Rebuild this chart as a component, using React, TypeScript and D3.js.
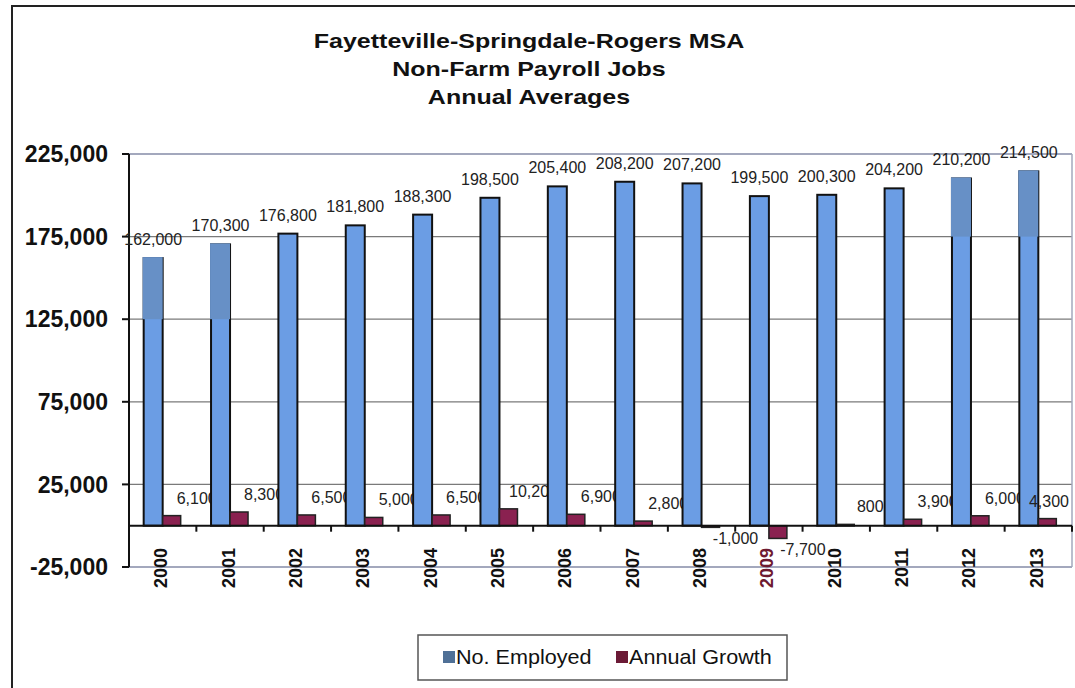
import * as d3 from 'd3';

const years = ['2000', '2001', '2002', '2003', '2004', '2005', '2006', '2007', '2008', '2009', '2010', '2011', '2012', '2013'];
const employed = [162000, 170300, 176800, 181800, 188300, 198500, 205400, 208200, 207200, 199500, 200300, 204200, 210200, 214500];
const growth = [6100, 8300, 6500, 5000, 6500, 10200, 6900, 2800, -1000, -7700, 800, 3900, 6000, 4300];
const yTicks = [-25000, 25000, 75000, 125000, 175000, 225000];
const seriesNames = ['No. Employed', 'Annual Growth'];
const titleLines = ['Fayetteville-Springdale-Rogers MSA', 'Non-Farm Payroll Jobs', 'Annual Averages'];
// scanned copy has flat patches over a few bar tops, down to these values
const patchYears = ['2000', '2001', '2012', '2013'];
const patchBottoms = [125000, 125000, 175000, 175000];

const W = 1075;
const H = 688;
const FONT = '"Liberation Sans", Arial, sans-serif';
const BLUE = '#6b9de4';
const PATCH = '#6790c6';
const RED = '#8a2150';

// excel-style numbers: plain hyphen for negatives
const fmt = (v: number) => d3.format(',')(v).replace('\u2212', '-');

export default function App(): JSX.Element {
  const left = 129;
  const right = 1072;
  const x = d3.scaleBand<string>().domain(years).range([left, right]).padding(0);
  const y = d3.scaleLinear().domain([-25000, 225000]).range([567, 154]);
  const bw = x.bandwidth();
  const half = 19;
  const center = (yr: string) => (x(yr) as number) + bw / 2;

  return (
    <svg
      xmlns="http://www.w3.org/2000/svg"
      width={W}
      height={H}
      style={{ position: 'absolute', left: 0, top: 0, background: '#fff' }}
      fontFamily={FONT}
    >
      <rect x={0} y={0} width={W} height={H} fill="#fff" />
      <rect x={12} y={6} width={W + 20} height={H + 20} fill="none" stroke="#222" strokeWidth={2} />

      {/* title is a bit wide in the original, stretch it */}
      <g transform="translate(529,0) scale(1.19,1)">
        <text textAnchor="middle" fontWeight="bold" fontSize={21} fill="#111">
          {titleLines.map((t, i) => (
            <tspan key={t} x={0} y={48 + i * 28}>
              {t}
            </tspan>
          ))}
        </text>
      </g>

      {/* gridlines */}
      {yTicks.map((t) => (
        <line
          key={t}
          x1={left}
          x2={right}
          y1={y(t)}
          y2={y(t)}
          stroke={t === 225000 || t === -25000 ? '#a3a8bd' : '#7a7a7a'}
          strokeWidth={t === 225000 || t === -25000 ? 2 : 1.3}
        />
      ))}
      <line x1={right} x2={right} y1={y(225000)} y2={y(-25000)} stroke="#a3a8bd" strokeWidth={1.5} />

      {/* y axis */}
      <line x1={left} x2={left} y1={y(225000)} y2={y(-25000)} stroke="#111" strokeWidth={2} />
      {yTicks.map((t) => (
        <g key={t}>
          <line x1={left - 7} x2={left} y1={y(t)} y2={y(t)} stroke="#111" strokeWidth={2} />
          <text
            x={108}
            y={y(t)}
            dy="0.36em"
            textAnchor="end"
            fontWeight="bold"
            fontSize={23}
            fill="#111"
          >
            {fmt(t)}
          </text>
        </g>
      ))}

      {/* bars; each growth label is drawn with its own year so the next year's bar covers it */}
      {years.map((yr, i) => {
        const c = center(yr);
        const g = growth[i];
        const pi = patchYears.indexOf(yr);
        const lx = Math.min(c + half + 15, right - 23);
        const ly = g >= 0 ? y(g) - 12 : y(g) + 17;
        return (
          <g key={yr}>
            <rect
              x={c - half}
              y={y(employed[i])}
              width={half}
              height={y(0) - y(employed[i])}
              fill={BLUE}
              stroke="#111"
              strokeWidth={2}
            />
            {pi >= 0 && (
              <rect
                x={c - half - 1}
                y={y(employed[i]) - 1}
                width={half + 1}
                height={y(patchBottoms[pi]) - y(employed[i]) + 1}
                fill={PATCH}
              />
            )}
            <rect
              x={c}
              y={y(Math.max(0, g))}
              width={half - 1}
              height={Math.max(1.5, Math.abs(y(g) - y(0)))}
              fill={RED}
              stroke="#222"
              strokeWidth={1.5}
            />
            <text x={lx} y={ly} textAnchor="middle" fontSize={16} fill="#222">
              {fmt(g)}
            </text>
          </g>
        );
      })}

      {/* x axis */}
      <line x1={left} x2={right} y1={y(0)} y2={y(0)} stroke="#111" strokeWidth={2} />
      {years.map((yr) => (
        <line
          key={yr}
          x1={(x(yr) as number) + bw}
          x2={(x(yr) as number) + bw}
          y1={y(0)}
          y2={y(0) + 6}
          stroke="#111"
          strokeWidth={2}
        />
      ))}
      {years.map((yr) => (
        <text
          key={yr}
          transform={`translate(${center(yr) - 2},548) rotate(-90)`}
          textAnchor="end"
          dy="0.36em"
          fontWeight="bold"
          fontSize={18}
          fill={yr === '2009' ? '#6e1a30' : '#111'}
        >
          {yr}
        </text>
      ))}

      {/* employed labels */}
      {years.map((yr, i) => (
        <text
          key={yr}
          x={center(yr) - half / 2}
          y={y(employed[i]) - 13}
          textAnchor="middle"
          fontSize={16}
          fill="#222"
        >
          {fmt(employed[i])}
        </text>
      ))}

      {/* legend */}
      <rect x={418} y={635} width={369} height={45} fill="#fff" stroke="#555" strokeWidth={1.5} />
      <rect x={443} y={651} width={12} height={12} fill="#4f7096" />
      <g transform="translate(456,664) scale(1.08,1)">
        <text x={0} y={0} fontSize={20} fill="#111">
          {seriesNames[0]}
        </text>
      </g>
      <rect x={616} y={651} width={12} height={12} fill="#6b1a36" />
      <g transform="translate(629,664) scale(1.08,1)">
        <text x={0} y={0} fontSize={20} fill="#111">
          {seriesNames[1]}
        </text>
      </g>
    </svg>
  );
}
